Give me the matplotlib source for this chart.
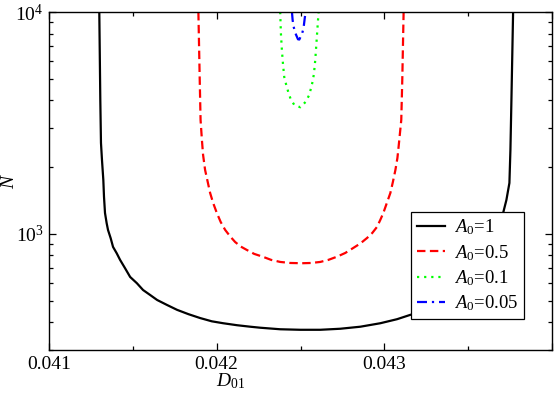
import matplotlib
matplotlib.use('Agg')
import matplotlib.pyplot as plt
from matplotlib.ticker import FixedLocator, LogLocator, NullFormatter

plt.rcParams['font.family'] = 'serif'
plt.rcParams['font.serif'] = ['Liberation Serif', 'DejaVu Serif']
plt.rcParams['mathtext.fontset'] = 'custom'
plt.rcParams['mathtext.rm'] = 'Liberation Serif'
plt.rcParams['mathtext.it'] = 'Liberation Serif:italic'

# curves (D01, N)
d_a1 = [0.041300, 0.041306, 0.041310, 0.041316, 0.041324, 0.041328, 0.041334,
        0.041344, 0.041352, 0.041368, 0.041382, 0.041404, 0.041424, 0.041454,
        0.041484, 0.041524, 0.041561, 0.041603, 0.041645, 0.041703, 0.041764,
        0.041832, 0.041901, 0.041971, 0.042039, 0.042121, 0.042200, 0.042260,
        0.042379, 0.042499, 0.042618, 0.042737, 0.042857, 0.042976, 0.043076,
        0.043155, 0.043245, 0.043334, 0.043424, 0.043484, 0.043543, 0.043603,
        0.043645, 0.043675, 0.043693, 0.043710, 0.043728, 0.043746, 0.043752,
        0.043758, 0.043768]
n_a1 = [10000, 4014, 2570, 2154, 1751, 1472, 1243, 1117, 1042, 956, 874, 818,
        764, 700, 640, 600, 559, 531, 504, 479, 455, 435, 418, 404, 396, 388,
        382, 378, 372, 370, 370, 374, 382, 396, 413, 432, 450, 474, 510, 542,
        589, 653, 740, 847, 990, 1256, 1422, 1697, 2390, 4014, 10000]

d_a05 = [0.041891, 0.041899, 0.041904, 0.041912, 0.041919, 0.041931, 0.041961,
         0.041979, 0.042001, 0.042024, 0.042051, 0.042081, 0.042110, 0.042143,
         0.042180, 0.042224, 0.042278, 0.042325, 0.042379, 0.042439, 0.042509,
         0.042564, 0.042618, 0.042666, 0.042718, 0.042767, 0.042815, 0.042857,
         0.042897, 0.042928, 0.042956, 0.042976, 0.042994, 0.043015, 0.043036,
         0.043051, 0.043066, 0.043078, 0.043085, 0.043101, 0.043107, 0.043115]
n_a05 = [10000, 4939, 3262, 2651, 2269, 1942, 1530, 1379, 1243, 1132, 1042,
         974, 920, 878, 847, 813, 788, 764, 748, 740, 738, 740, 748, 764, 790,
         821, 865, 906, 959, 1010, 1075, 1157, 1243, 1379, 1530, 1715, 1942,
         2199, 2466, 3262, 4939, 10000]

d_a01 = [0.042379, 0.042383, 0.042389, 0.042395, 0.042403, 0.042415, 0.042427,
         0.042441, 0.042463, 0.042499, 0.042530, 0.042550, 0.042562, 0.042572,
         0.042580, 0.042588, 0.042594, 0.042600, 0.042606, 0.042608]
n_a01 = [10000, 8043, 6744, 5893, 5096, 4691, 4362, 4057, 3812, 3722, 3932,
         4198, 4512, 4853, 5256, 6078, 7050, 8211, 9563, 10000]

d_a005 = [0.042449, 0.042453, 0.042459, 0.042469, 0.042485, 0.042493,
          0.042510, 0.042518, 0.042524, 0.042530]
n_a005 = [10000, 9204, 8587, 8043, 7535, 7515, 8018, 8445, 9204, 10000]

labels = ['$A_0$=1', '$A_0$=0.5', '$A_0$=0.1', '$A_0$=0.05']
x_ticks = [0.041, 0.042, 0.043]

fig = plt.figure(figsize=(5.54, 3.94), dpi=100)
ax = fig.add_axes([49 / 554, 44 / 394, 503 / 554, 338 / 394])

ax.plot(d_a1, n_a1, color='black', lw=1.6, label=labels[0])
ax.plot(d_a05, n_a05, color='#ff0000', lw=1.6, ls=(0, (3.8, 2.0)), label=labels[1])
ax.plot(d_a01, n_a01, color='#00ff00', lw=1.6, ls=(0, (1, 2.2)), label=labels[2])
ax.plot(d_a005, n_a005, color='#0000ff', lw=1.6, ls=(0, (4.5, 2.2, 1, 2.2)), label=labels[3])

ax.set_yscale('log')
ax.set_xlim(0.041, 0.044)
ax.set_ylim(300, 10000)

ax.xaxis.set_major_locator(FixedLocator(x_ticks + [0.044]))
ax.xaxis.set_minor_locator(FixedLocator([0.0415, 0.0425, 0.0435]))
ax.set_xticklabels([str(t) for t in x_ticks] + [''])
ax.yaxis.set_major_locator(LogLocator(base=10))
ax.yaxis.set_minor_locator(LogLocator(base=10, subs=range(2, 10)))
ax.yaxis.set_minor_formatter(NullFormatter())

ax.tick_params(which='both', direction='in', top=True, right=True, labelsize=14)
ax.tick_params(which='major', length=5, width=0.9, pad=4)
ax.tick_params(which='minor', length=3, width=0.9)
for s in ax.spines.values():
    s.set_linewidth(1.0)

ax.set_xlabel('$D_{01}$', fontsize=14)
ax.set_ylabel('$N$', fontsize=14)
ax.xaxis.set_label_coords(0.36, -0.062)
ax.yaxis.set_label_coords(-0.062, 0.5)

leg = ax.legend(loc='lower left', bbox_to_anchor=(0.72, 0.092), fontsize=13.5,
                frameon=True, fancybox=False, framealpha=1, edgecolor='black',
                handlelength=1.5, handletextpad=0.5, labelspacing=0.3,
                borderpad=0.3, borderaxespad=0)
leg.get_frame().set_linewidth(0.9)

fig.savefig('out.png', dpi=100)
